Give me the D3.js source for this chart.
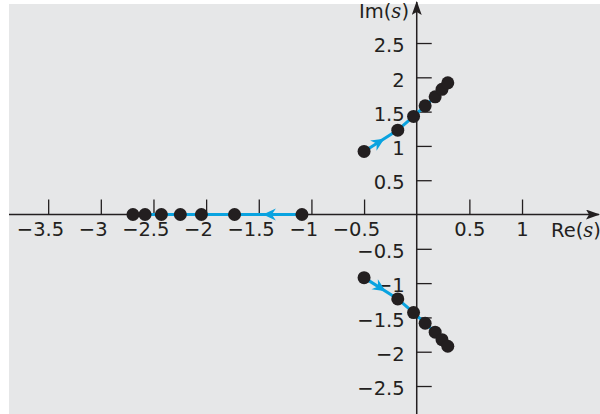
<!DOCTYPE html>
<html>
<head>
<meta charset="utf-8">
<script src="https://cdn.jsdelivr.net/npm/d3@7"></script>
<style>
  html, body { margin: 0; padding: 0; background: #ffffff; }
  svg { display: block; }
  text { font-family: "DejaVu Sans", sans-serif; }
</style>
</head>
<body>
<svg id="chart" width="600" height="414"></svg>
<script>
// ---- data ----
const realAxisRoots = [-1.09, -1.73, -2.045, -2.245, -2.425, -2.58, -2.695];
const upperRe = [-0.50, -0.18, -0.03, 0.08, 0.175, 0.24, 0.295];
const upperIm = [0.92, 1.23, 1.43, 1.585, 1.715, 1.825, 1.92];
const lowerRe = [-0.50, -0.18, -0.03, 0.08, 0.175, 0.24, 0.295];
const lowerIm = [-0.92, -1.23, -1.43, -1.585, -1.715, -1.825, -1.92];
const xTicks = [-3.5, -3, -2.5, -2, -1.5, -1, -0.5, 0.5, 1];
const yTicks = [2.5, 2, 1.5, 1, 0.5, -0.5, -1, -1.5, -2, -2.5];

// ---- layout ----
const W = 600, H = 414;
const FS = "19.5px";
const svg = d3.select("#chart");
const ink = "#231f20", blue = "#0aa3e0";

const x = d3.scaleLinear().domain([-3.872, 1.731]).range([9, 599]);
const y = d3.scaleLinear().domain([-2.908, 3.098]).range([414, 2]);

svg.append("rect").attr("x", 9).attr("y", 4).attr("width", W - 9).attr("height", H - 4)
  .attr("fill", "#e6e7e8");

const defs = svg.append("defs");
defs.append("marker").attr("id", "axArrow").attr("viewBox", "0 0 14 10")
  .attr("refX", 13).attr("refY", 5).attr("markerWidth", 14).attr("markerHeight", 10)
  .attr("markerUnits", "userSpaceOnUse").attr("orient", "auto")
  .append("path").attr("d", "M0,0 L14,5 L0,10 L3,5 Z").attr("fill", ink);

// axes lines
svg.append("line").attr("x1", 9).attr("x2", 599).attr("y1", y(0)).attr("y2", y(0))
  .attr("stroke", ink).attr("stroke-width", 1.5).attr("marker-end", "url(#axArrow)");
svg.append("line").attr("x1", x(0)).attr("x2", x(0)).attr("y1", H).attr("y2", 2)
  .attr("stroke", ink).attr("stroke-width", 1.5).attr("marker-end", "url(#axArrow)");

const fmt = v => (v < 0 ? "\u2212" : "") + String(Math.abs(v));

const gx = svg.append("g").attr("transform", `translate(0,${y(0)})`)
  .call(d3.axisBottom(x).tickValues(xTicks).tickSize(-15).tickPadding(8).tickFormat(fmt));
const gy = svg.append("g").attr("transform", `translate(${x(0)},0)`)
  .call(d3.axisLeft(y).tickValues(yTicks).tickSize(-15).tickPadding(12).tickFormat(fmt));

[gx, gy].forEach(g => {
  g.select(".domain").remove();
  g.selectAll(".tick line").attr("stroke", ink).attr("stroke-width", 1.3);
  g.selectAll(".tick text").attr("fill", ink).style("font-size", FS)
    .style("font-family", "'DejaVu Sans', sans-serif");
});
gy.selectAll(".tick text").attr("dy", "0.45em");
// center the numeric part of negative x labels on the tick (minus hangs left)
gx.selectAll(".tick text").each(function(d) {
  if (d < 0) {
    const t = d3.select(this);
    const full = this.getComputedTextLength();
    t.text(String(Math.abs(d)));
    const part = this.getComputedTextLength();
    t.text(fmt(d));
    t.attr("x", -(full - part) / 2);
  }
});

// axis titles
function title(txt, xp, yp, anchor) {
  const t = svg.append("text").attr("x", xp).attr("y", yp).attr("fill", ink)
    .attr("text-anchor", anchor).style("font-size", FS);
  t.append("tspan").text(txt);
  t.append("tspan").text("(");
  t.append("tspan").text("s").style("font-family", "'DejaVu Serif', serif").style("font-style", "italic");
  t.append("tspan").text(")");
}
title("Re", 551, 237, "start");
title("Im", 359, 18, "start");

// locus lines
const line = d3.line().x(d => x(d[0])).y(d => y(d[1]));
const realPts = realAxisRoots.map(v => [v, 0]);
const upperPts = upperRe.map((v, i) => [v, upperIm[i]]);
const lowerPts = lowerRe.map((v, i) => [v, lowerIm[i]]);
[realPts, upperPts, lowerPts].forEach(p => {
  svg.append("path").attr("d", line(p)).attr("fill", "none")
    .attr("stroke", blue).attr("stroke-width", 3);
});

// direction arrowheads (between first and second root on each branch)
function arrowHead(p, t) {
  const x0 = x(p[0][0]), y0 = y(p[0][1]), x1 = x(p[1][0]), y1 = y(p[1][1]);
  const tx = x0 + (x1 - x0) * t, ty = y0 + (y1 - y0) * t;
  const ang = Math.atan2(y1 - y0, x1 - x0) * 180 / Math.PI;
  svg.append("path").attr("d", "M0,0 L-13,-6 L-9,0 L-13,6 Z")
    .attr("transform", `translate(${tx},${ty}) rotate(${ang})`).attr("fill", blue);
}
arrowHead(realPts, 0.58);
arrowHead(upperPts, 0.6);
arrowHead(lowerPts, 0.64);

// roots
svg.append("g").selectAll("circle").data(realPts.concat(upperPts, lowerPts)).join("circle")
  .attr("cx", d => x(d[0])).attr("cy", d => y(d[1])).attr("r", 6.5).attr("fill", ink);
</script>
</body>
</html>
